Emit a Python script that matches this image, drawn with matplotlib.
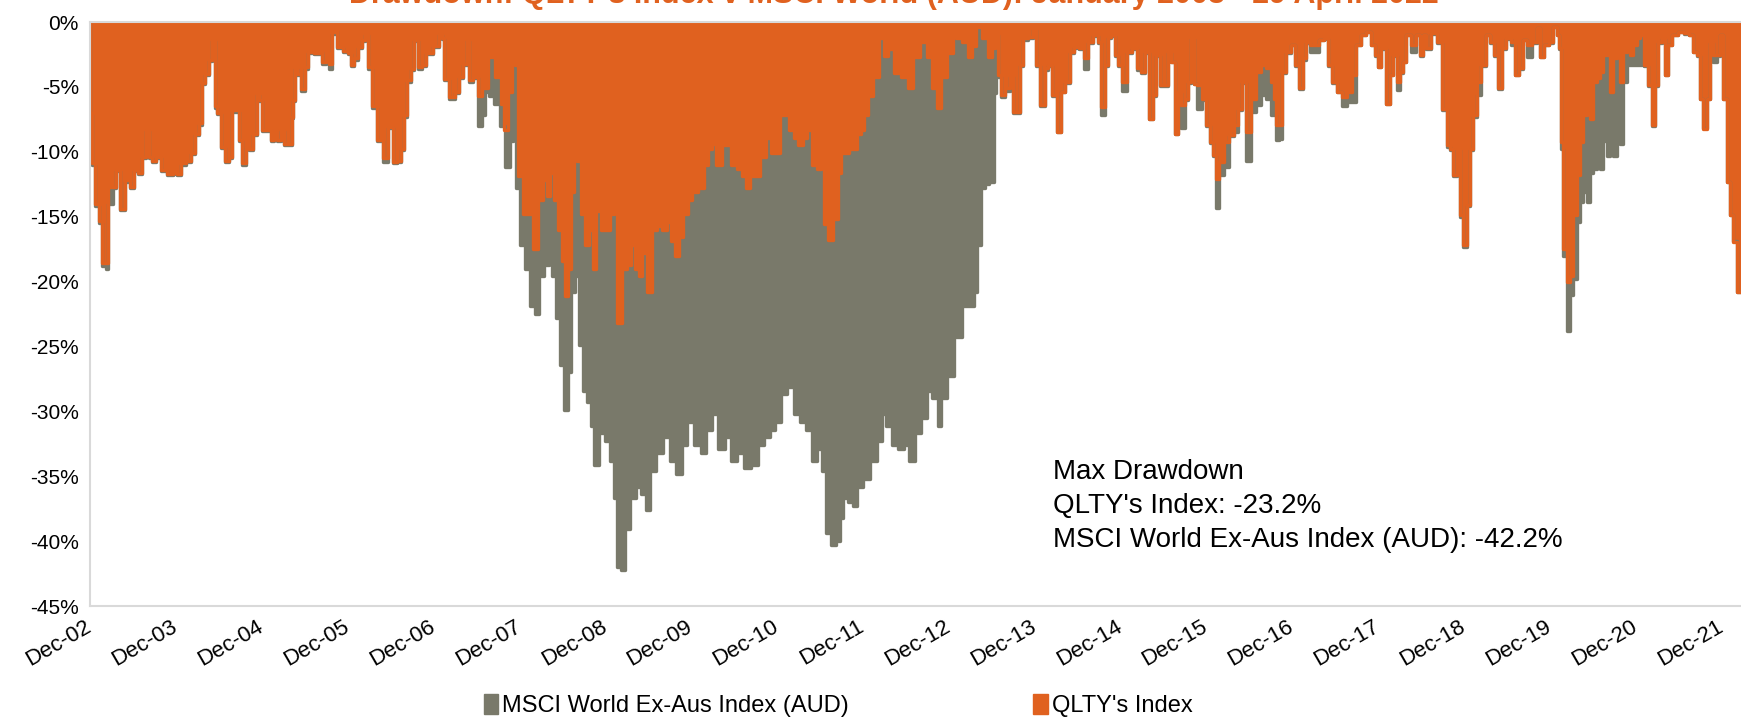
import matplotlib
matplotlib.use("Agg")
import matplotlib.pyplot as plt
from matplotlib.patches import Patch

# drawdown series, x in decimal years, values in %
qlty_years = [
    2003.000, 2003.008, 2003.027, 2003.085, 2003.124, 2003.163, 2003.202, 2003.221, 2003.280, 2003.318,
    2003.377, 2003.435, 2003.493, 2003.532, 2003.591, 2003.629, 2003.668, 2003.707, 2003.746, 2003.785,
    2003.862, 2003.940, 2003.998, 2004.037, 2004.076, 2004.154, 2004.193, 2004.251, 2004.290, 2004.309,
    2004.367, 2004.406, 2004.445, 2004.465, 2004.504, 2004.542, 2004.601, 2004.639, 2004.678, 2004.717,
    2004.756, 2004.795, 2004.834, 2004.873, 2004.931, 2004.950, 2004.989, 2005.028, 2005.086, 2005.125,
    2005.164, 2005.203, 2005.242, 2005.281, 2005.339, 2005.358, 2005.378, 2005.397, 2005.436, 2005.475,
    2005.494, 2005.514, 2005.553, 2005.669, 2005.689, 2005.727, 2005.766, 2005.805, 2005.844, 2005.863,
    2005.902, 2005.980, 2006.019, 2006.058, 2006.097, 2006.135, 2006.194, 2006.213, 2006.252, 2006.310,
    2006.368, 2006.446, 2006.504, 2006.543, 2006.601, 2006.646, 2006.668, 2006.713, 2006.757, 2006.802,
    2006.846, 2006.891, 2006.936, 2007.047, 2007.092, 2007.114, 2007.136, 2007.225, 2007.270, 2007.315,
    2007.382, 2007.404, 2007.426, 2007.493, 2007.538, 2007.605, 2007.672, 2007.761, 2007.805, 2007.850,
    2007.895, 2007.939, 2007.962, 2008.006, 2008.073, 2008.140, 2008.185, 2008.251, 2008.296, 2008.341,
    2008.385, 2008.430, 2008.474, 2008.519, 2008.541, 2008.586, 2008.630, 2008.653, 2008.697, 2008.742,
    2008.787, 2008.831, 2008.876, 2008.920, 2008.987, 2009.032, 2009.076, 2009.121, 2009.166, 2009.233,
    2009.277, 2009.322, 2009.367, 2009.411, 2009.456, 2009.523, 2009.567, 2009.634, 2009.701, 2009.746,
    2009.790, 2009.835, 2009.879, 2009.946, 2009.991, 2010.035, 2010.125, 2010.169, 2010.236, 2010.259,
    2010.325, 2010.392, 2010.437, 2010.504, 2010.571, 2010.615, 2010.660, 2010.704, 2010.771, 2010.838,
    2010.905, 2010.950, 2011.017, 2011.061, 2011.106, 2011.173, 2011.217, 2011.284, 2011.329, 2011.373,
    2011.440, 2011.507, 2011.530, 2011.574, 2011.619, 2011.686, 2011.730, 2011.775, 2011.909, 2011.953,
    2011.998, 2012.043, 2012.087, 2012.154, 2012.221, 2012.266, 2012.333, 2012.399, 2012.489, 2012.556,
    2012.622, 2012.712, 2012.779, 2012.846, 2012.890, 2012.935, 2013.024, 2013.069, 2013.113, 2013.202,
    2013.247, 2013.291, 2013.358, 2013.425, 2013.492, 2013.525, 2013.556, 2013.595, 2013.633, 2013.692,
    2013.731, 2013.769, 2013.808, 2013.847, 2013.886, 2013.964, 2014.002, 2014.041, 2014.100, 2014.138,
    2014.177, 2014.236, 2014.294, 2014.333, 2014.391, 2014.430, 2014.488, 2014.546, 2014.605, 2014.643,
    2014.721, 2014.760, 2014.799, 2014.838, 2014.877, 2014.915, 2014.954, 2014.993, 2015.051, 2015.110,
    2015.168, 2015.226, 2015.265, 2015.304, 2015.362, 2015.401, 2015.440, 2015.479, 2015.537, 2015.576,
    2015.615, 2015.654, 2015.692, 2015.731, 2015.770, 2015.809, 2015.848, 2015.867, 2015.926, 2015.984,
    2016.023, 2016.061, 2016.100, 2016.131, 2016.178, 2016.236, 2016.295, 2016.353, 2016.392, 2016.450,
    2016.489, 2016.547, 2016.605, 2016.664, 2016.722, 2016.780, 2016.800, 2016.830, 2016.858, 2016.916,
    2016.955, 2017.013, 2017.052, 2017.110, 2017.149, 2017.188, 2017.227, 2017.285, 2017.343, 2017.401,
    2017.440, 2017.499, 2017.557, 2017.615, 2017.673, 2017.732, 2017.771, 2017.829, 2017.887, 2017.945,
    2017.984, 2018.023, 2018.062, 2018.120, 2018.159, 2018.198, 2018.237, 2018.275, 2018.314, 2018.353,
    2018.412, 2018.470, 2018.509, 2018.547, 2018.586, 2018.645, 2018.722, 2018.781, 2018.819, 2018.858,
    2018.897, 2018.936, 2018.975, 2019.014, 2019.053, 2019.091, 2019.130, 2019.169, 2019.227, 2019.286,
    2019.324, 2019.383, 2019.422, 2019.461, 2019.519, 2019.577, 2019.616, 2019.675, 2019.713, 2019.772,
    2019.830, 2019.869, 2019.908, 2019.966, 2020.024, 2020.063, 2020.102, 2020.121, 2020.141, 2020.180,
    2020.218, 2020.257, 2020.296, 2020.335, 2020.374, 2020.413, 2020.452, 2020.490, 2020.529, 2020.568,
    2020.607, 2020.646, 2020.685, 2020.724, 2020.762, 2020.801, 2020.840, 2020.879, 2020.918, 2020.957,
    2020.995, 2021.034, 2021.073, 2021.131, 2021.170, 2021.209, 2021.248, 2021.287, 2021.326, 2021.364,
    2021.403, 2021.442, 2021.539, 2021.598, 2021.656, 2021.695, 2021.734, 2021.772, 2021.811, 2021.850,
    2021.889, 2021.928, 2021.967, 2022.005, 2022.044, 2022.083, 2022.122, 2022.161, 2022.200, 2022.240,
]
qlty_dd = [
    0.0, -7.0, -10.9, -14.0, -15.3, -18.6, -18.6, -12.7, -12.7, -11.4,
    -14.4, -12.2, -12.7, -11.4, -11.6, -10.4, -8.3, -10.4, -10.7, -10.4,
    -11.4, -11.7, -11.6, -11.7, -10.9, -10.7, -10.1, -8.6, -7.8, -4.7,
    -4.0, -2.9, -1.4, -6.5, -7.0, -9.6, -10.7, -10.4, -6.8, -6.8,
    -9.1, -10.9, -9.6, -9.8, -8.6, -5.5, -6.0, -8.3, -8.3, -9.1,
    -8.3, -9.1, -8.3, -9.4, -9.4, -7.3, -6.0, -3.5, -4.0, -5.2,
    -5.2, -3.5, -2.3, -2.4, -2.2, -3.1, -2.4, -3.2, -0.8, -0.6,
    -1.9, -2.2, -2.4, -3.3, -2.8, -1.9, -1.4, -0.9, -3.5, -6.5,
    -9.1, -10.5, -8.1, -10.8, -10.7, -9.8, -7.2, -4.5, -3.6, -1.4,
    -3.5, -3.3, -2.4, -1.85, -0.96, -1.25, -4.4, -5.8, -5.4, -4.2,
    -3.2, -1.4, -4.5, -4.2, -5.7, -5.1, -2.7, -4.2, -6.3, -8.35,
    -5.4, -2.7, -3.3, -11.9, -14.8, -14.8, -17.5, -13.7, -12.2, -13.4,
    -11.6, -13.7, -16.0, -18.4, -21.1, -19.0, -13.1, -9.2, -10.7, -14.8,
    -17.2, -16.0, -19.0, -14.6, -16.0, -16.0, -14.8, -14.6, -23.2, -19.0,
    -18.7, -17.2, -19.0, -19.6, -17.8, -20.8, -16.0, -15.7, -16.0, -15.4,
    -16.9, -18.0, -16.6, -14.8, -13.7, -13.1, -12.8, -11.0, -9.8, -9.4,
    -11.0, -9.5, -9.5, -11.0, -11.3, -11.9, -12.8, -11.9, -11.9, -10.4,
    -8.9, -10.1, -10.1, -7.2, -7.2, -8.35, -8.9, -9.5, -8.9, -8.35,
    -11.0, -11.3, -8.9, -15.6, -16.8, -15.2, -11.6, -10.1, -9.8, -8.6,
    -8.35, -7.2, -5.7, -4.2, -1.25, -2.6, -2.1, -3.9, -4.2, -5.1,
    -2.7, -1.55, -2.7, -5.1, -6.6, -4.2, -2.4, -0.66, -1.25, -1.55,
    -2.7, -1.85, -0.37, -1.25, -2.7, -2.03, -0.49, -4.09, -5.64, -5.12,
    -4.09, -6.92, -6.92, -3.32, -1.26, -1.13, -0.49, -3.32, -6.41, -3.58,
    -3.32, -5.64, -8.47, -5.38, -4.61, -2.29, -1.9, -2.03, -2.8, -1.52,
    -1.0, -1.52, -6.54, -3.32, -1.13, -1.0, -2.55, -3.32, -4.61, -2.29,
    -2.03, -3.58, -3.84, -2.29, -7.44, -5.64, -2.55, -4.87, -4.87, -2.29,
    -3.06, -8.6, -5.38, -6.41, -5.9, -4.61, -1.26, -4.74, -4.87, -5.9,
    -7.95, -9.24, -10.27, -12.07, -10.79, -9.24, -8.73, -7.95, -6.67, -4.61,
    -8.47, -5.9, -3.84, -3.32, -3.58, -4.61, -5.9, -7.9, -7.95, -3.84,
    -2.29, -1.78, -3.32, -5.12, -2.8, -1.52, -1.78, -1.78, -1.39, -1.26,
    -3.32, -4.61, -5.38, -5.77, -5.38, -4.09, -1.78, -1.0, -0.75, -1.78,
    -2.55, -3.45, -2.03, -6.28, -4.09, -2.55, -4.61, -3.84, -3.06, -1.0,
    -1.78, -1.0, -2.55, -1.0, -2.03, -0.88, -1.52, -6.67, -9.5, -9.76,
    -11.82, -9.76, -14.9, -17.22, -14.13, -9.76, -7.18, -4.61, -3.32, -1.0,
    -1.52, -2.55, -5.12, -2.03, -1.26, -1.52, -4.09, -3.58, -1.39, -1.78,
    -1.52, -0.49, -2.68, -1.78, -1.52, -0.36, -1.0, -2.03, -9.24, -17.48,
    -20.05, -19.54, -14.9, -11.82, -9.24, -7.18, -6.15, -7.44, -4.61, -4.35,
    -3.84, -2.55, -2.55, -5.38, -2.8, -2.55, -4.61, -2.29, -1.52, -2.55,
    -1.78, -1.26, -1.0, -3.32, -4.87, -7.95, -4.87, -1.52, -1.26, -4.09,
    -1.78, -1.0, -0.75, -0.88, -1.0, -2.29, -2.55, -5.9, -8.21, -5.9,
    -1.52, -2.55, -2.55, -1.0, -5.9, -12.33, -14.9, -16.96, -20.82, -20.82,
]

msci_years = [
    2003.000, 2003.008, 2003.027, 2003.085, 2003.124, 2003.163, 2003.202, 2003.221, 2003.250, 2003.280,
    2003.318, 2003.377, 2003.435, 2003.493, 2003.532, 2003.591, 2003.629, 2003.668, 2003.707, 2003.746,
    2003.785, 2003.862, 2003.940, 2003.998, 2004.037, 2004.076, 2004.154, 2004.193, 2004.251, 2004.290,
    2004.309, 2004.367, 2004.406, 2004.445, 2004.465, 2004.504, 2004.542, 2004.601, 2004.639, 2004.678,
    2004.717, 2004.756, 2004.795, 2004.834, 2004.873, 2004.931, 2004.950, 2004.989, 2005.028, 2005.086,
    2005.125, 2005.164, 2005.203, 2005.242, 2005.281, 2005.339, 2005.358, 2005.378, 2005.397, 2005.436,
    2005.475, 2005.494, 2005.514, 2005.553, 2005.669, 2005.689, 2005.727, 2005.766, 2005.805, 2005.844,
    2005.863, 2005.902, 2005.980, 2006.019, 2006.058, 2006.097, 2006.135, 2006.194, 2006.213, 2006.252,
    2006.310, 2006.368, 2006.446, 2006.504, 2006.543, 2006.601, 2006.646, 2006.668, 2006.713, 2006.757,
    2006.802, 2006.846, 2006.891, 2006.936, 2007.047, 2007.092, 2007.114, 2007.136, 2007.225, 2007.270,
    2007.315, 2007.382, 2007.404, 2007.426, 2007.493, 2007.538, 2007.582, 2007.627, 2007.672, 2007.738,
    2007.805, 2007.863, 2007.917, 2007.939, 2007.984, 2008.028, 2008.095, 2008.162, 2008.207, 2008.251,
    2008.318, 2008.363, 2008.407, 2008.452, 2008.497, 2008.541, 2008.586, 2008.630, 2008.675, 2008.720,
    2008.764, 2008.809, 2008.853, 2008.898, 2008.965, 2009.032, 2009.076, 2009.121, 2009.166, 2009.197,
    2009.255, 2009.322, 2009.389, 2009.456, 2009.500, 2009.545, 2009.634, 2009.723, 2009.790, 2009.857,
    2009.924, 2009.991, 2010.080, 2010.147, 2010.214, 2010.281, 2010.348, 2010.437, 2010.504, 2010.571,
    2010.660, 2010.749, 2010.816, 2010.883, 2010.950, 2011.017, 2011.084, 2011.151, 2011.240, 2011.307,
    2011.373, 2011.440, 2011.507, 2011.552, 2011.596, 2011.663, 2011.708, 2011.753, 2011.797, 2011.864,
    2011.909, 2011.953, 2012.043, 2012.132, 2012.199, 2012.243, 2012.310, 2012.377, 2012.444, 2012.511,
    2012.578, 2012.645, 2012.712, 2012.779, 2012.846, 2012.899, 2012.935, 2013.024, 2013.113, 2013.202,
    2013.269, 2013.314, 2013.358, 2013.400, 2013.450, 2013.490, 2013.520, 2013.545, 2013.556, 2013.595,
    2013.633, 2013.692, 2013.731, 2013.769, 2013.808, 2013.847, 2013.886, 2013.964, 2014.002, 2014.041,
    2014.100, 2014.138, 2014.177, 2014.236, 2014.294, 2014.333, 2014.391, 2014.430, 2014.488, 2014.546,
    2014.605, 2014.643, 2014.721, 2014.760, 2014.799, 2014.838, 2014.877, 2014.915, 2014.954, 2014.993,
    2015.051, 2015.110, 2015.168, 2015.226, 2015.265, 2015.304, 2015.362, 2015.401, 2015.440, 2015.479,
    2015.537, 2015.576, 2015.615, 2015.654, 2015.692, 2015.731, 2015.770, 2015.809, 2015.848, 2015.867,
    2015.926, 2015.984, 2016.023, 2016.061, 2016.100, 2016.131, 2016.178, 2016.236, 2016.295, 2016.353,
    2016.392, 2016.450, 2016.489, 2016.547, 2016.605, 2016.664, 2016.722, 2016.780, 2016.800, 2016.830,
    2016.858, 2016.916, 2016.955, 2017.013, 2017.052, 2017.110, 2017.149, 2017.188, 2017.227, 2017.285,
    2017.343, 2017.401, 2017.440, 2017.499, 2017.557, 2017.615, 2017.673, 2017.732, 2017.771, 2017.829,
    2017.887, 2017.945, 2017.984, 2018.023, 2018.062, 2018.120, 2018.159, 2018.198, 2018.237, 2018.275,
    2018.314, 2018.353, 2018.412, 2018.470, 2018.509, 2018.547, 2018.586, 2018.645, 2018.722, 2018.781,
    2018.819, 2018.858, 2018.897, 2018.936, 2018.975, 2019.014, 2019.053, 2019.091, 2019.130, 2019.169,
    2019.227, 2019.286, 2019.324, 2019.383, 2019.422, 2019.461, 2019.519, 2019.577, 2019.616, 2019.675,
    2019.713, 2019.772, 2019.830, 2019.869, 2019.908, 2019.966, 2020.024, 2020.063, 2020.102, 2020.121,
    2020.141, 2020.180, 2020.230, 2020.257, 2020.296, 2020.335, 2020.374, 2020.413, 2020.452, 2020.490,
    2020.529, 2020.568, 2020.607, 2020.646, 2020.685, 2020.724, 2020.762, 2020.801, 2020.840, 2020.879,
    2020.918, 2020.957, 2020.995, 2021.034, 2021.073, 2021.131, 2021.170, 2021.209, 2021.248, 2021.287,
    2021.326, 2021.364, 2021.403, 2021.442, 2021.539, 2021.598, 2021.656, 2021.695, 2021.734, 2021.772,
    2021.811, 2021.850, 2021.889, 2021.928, 2021.967, 2022.005, 2022.044, 2022.083, 2022.122, 2022.161,
    2022.200, 2022.240,
]
msci_dd = [
    0.0, -7.2, -11.0, -14.2, -15.5, -18.8, -19.0, -14.0, -14.0, -12.8,
    -11.5, -14.5, -12.3, -12.8, -11.5, -11.7, -10.5, -8.4, -10.5, -10.8,
    -10.5, -11.5, -11.8, -11.7, -11.8, -11.0, -10.8, -10.2, -8.7, -7.9,
    -4.8, -4.1, -3.0, -1.5, -6.6, -7.1, -9.7, -10.8, -10.5, -6.9,
    -6.9, -9.2, -11.0, -9.7, -9.9, -8.7, -5.6, -6.1, -8.4, -8.4,
    -9.2, -8.4, -9.2, -8.4, -9.5, -9.5, -7.4, -6.1, -3.6, -4.1,
    -5.3, -5.3, -3.6, -2.4, -2.5, -2.3, -3.2, -2.5, -3.6, -0.9,
    -0.7, -2.0, -2.3, -2.5, -3.4, -2.9, -2.0, -1.5, -1.0, -3.6,
    -6.6, -9.2, -10.8, -8.2, -10.9, -10.8, -9.9, -7.3, -4.6, -3.7,
    -1.5, -3.6, -3.4, -2.5, -1.9, -1.0, -1.3, -4.5, -5.9, -5.5,
    -4.3, -3.3, -1.5, -4.6, -4.3, -8.05, -7.2, -5.4, -5.7, -6.3,
    -8.05, -11.2, -9.2, -6.5, -12.8, -17.2, -19.0, -21.9, -22.5, -19.6,
    -18.7, -17.5, -19.6, -22.8, -26.4, -29.9, -27.0, -20.8, -19.6, -24.9,
    -28.4, -29.3, -31.1, -34.1, -31.7, -32.3, -33.8, -36.7, -42.0, -42.2,
    -39.1, -36.7, -35.8, -36.4, -37.6, -34.6, -33.2, -32.0, -33.8, -34.8,
    -32.6, -30.8, -32.6, -33.2, -31.4, -30.2, -32.9, -32.0, -33.8, -33.2,
    -34.4, -34.1, -32.6, -32.0, -31.4, -30.8, -28.7, -28.1, -30.2, -30.8,
    -31.4, -33.8, -32.9, -34.6, -39.4, -40.3, -40.0, -38.2, -36.7, -37.0,
    -37.3, -35.8, -35.2, -33.8, -32.3, -30.2, -31.1, -32.6, -32.9, -32.6,
    -33.8, -31.7, -30.5, -28.4, -29.0, -31.1, -29.0, -27.3, -24.3, -21.9,
    -21.9, -20.8, -17.2, -12.8, -12.5, -12.3, -12.3, -5.5, -1.0, -4.2,
    -5.8, -5.3, -4.2, -7.0, -7.0, -3.4, -1.4, -1.2, -0.6, -3.4,
    -6.5, -3.7, -3.4, -5.7, -8.5, -5.4, -4.7, -2.4, -2.0, -2.1,
    -3.6, -1.6, -1.1, -1.6, -7.2, -3.4, -1.2, -1.1, -2.6, -3.4,
    -5.3, -2.4, -2.1, -3.7, -3.9, -2.4, -7.5, -5.7, -2.6, -4.9,
    -4.9, -2.4, -3.1, -8.6, -5.5, -8.2, -6.0, -4.7, -1.3, -4.8,
    -6.7, -6.0, -8.0, -9.3, -10.3, -14.3, -11.8, -11.2, -8.8, -8.5,
    -6.8, -4.7, -10.7, -6.9, -6.4, -5.6, -5.9, -7.2, -7.2, -9.1,
    -9.0, -3.9, -2.4, -1.8, -3.4, -5.2, -2.9, -1.6, -2.3, -2.3,
    -1.4, -1.3, -3.4, -4.7, -5.4, -6.5, -6.2, -6.2, -1.8, -1.0,
    -0.8, -1.8, -2.6, -3.5, -2.1, -6.3, -4.1, -2.6, -5.25, -3.9,
    -3.1, -1.0, -2.3, -1.0, -2.6, -1.0, -2.1, -0.9, -1.6, -6.8,
    -9.6, -9.9, -11.9, -9.9, -15.0, -17.3, -14.2, -9.9, -7.3, -5.6,
    -3.4, -1.0, -1.6, -2.6, -5.2, -2.1, -1.3, -1.8, -4.1, -3.6,
    -1.4, -2.7, -1.6, -0.5, -2.7, -1.8, -1.6, -0.4, -1.0, -2.1,
    -9.8, -18.0, -23.8, -21.0, -19.8, -15.4, -13.9, -13.1, -13.9, -11.6,
    -11.3, -10.8, -11.3, -9.2, -10.3, -8.2, -10.3, -8.2, -9.4, -4.6,
    -3.3, -3.3, -3.3, -3.3, -3.3, -3.4, -4.9, -8.0, -4.9, -1.6,
    -1.3, -4.1, -1.8, -1.0, -0.8, -0.9, -1.0, -2.3, -2.6, -5.9,
    -8.2, -5.9, -1.6, -3.1, -2.6, -1.0, -5.9, -12.3, -14.9, -16.9,
    -20.8, -20.8,
]

y_ticks = [0, -5, -10, -15, -20, -25, -30, -35, -40, -45]
x_tick_years = list(range(2003, 2023))
x_tick_labels = ["Dec-%02d" % (y - 2001) for y in x_tick_years]

ORANGE = "#E0611F"
GRAY = "#79796A"
AXIS_GRAY = "#D9D9D9"

plt.rcParams["font.family"] = ["Liberation Sans", "DejaVu Sans"]

fig = plt.figure(figsize=(17.41, 7.21), dpi=100)
ax = fig.add_axes([90 / 1741, 1 - 606 / 721, 1 - 90 / 1741, 584 / 721])

# MSCI behind, QLTY on top
for xs, ys, col in [(msci_years, msci_dd, GRAY), (qlty_years, qlty_dd, ORANGE)]:
    ax.fill_between(xs, ys, 0, step="mid", color=col, lw=0)
    ax.plot(xs, ys, drawstyle="steps-mid", color=col, lw=2.4,
            solid_capstyle="round", solid_joinstyle="round")

ax.set_xlim(2003.0, 2022.23)
ax.set_ylim(-45, 0)
ax.set_yticks(y_ticks)
ax.set_yticklabels(["%d%%" % v for v in y_ticks])
ax.set_xticks(x_tick_years)
ax.set_xticklabels(x_tick_labels, rotation=30, ha="right", rotation_mode="anchor", va="center")
ax.tick_params(axis="y", length=0, labelsize=15, colors="black", pad=8)
ax.tick_params(axis="x", length=0, labelsize=16, colors="black", pad=14)

for side in ["left", "bottom", "top"]:
    ax.spines[side].set_color(AXIS_GRAY)
    ax.spines[side].set_linewidth(1.5)
ax.spines["right"].set_visible(False)

# max drawdown note
note = "Max Drawdown\nQLTY's Index: %.1f%%\nMSCI World Ex-Aus Index (AUD): %.1f%%" % (
    min(qlty_dd), min(msci_dd))
fig.text(1053 / 1741, 1 - 506 / 721, note, fontsize=20, ha="left", va="center", linespacing=1.39)

fig.text(894 / 1741, 1 - 3 / 721,
         "Drawdown: QLTY's Index v MSCI World (AUD): January 2003 - 29 April 2022",
         color=ORANGE, fontweight="bold", fontsize=22, ha="center", va="baseline")

handles = [Patch(color=GRAY), Patch(color=ORANGE)]
fig.legend(handles, ["MSCI World Ex-Aus Index (AUD)", "QLTY's Index"],
           loc="center", bbox_to_anchor=(0.4815, 0.021), ncol=2, frameon=False,
           fontsize=17, handlelength=0.6, handleheight=0.9, handletextpad=0.2,
           columnspacing=7.8)

fig.savefig("out.png", dpi=100)
